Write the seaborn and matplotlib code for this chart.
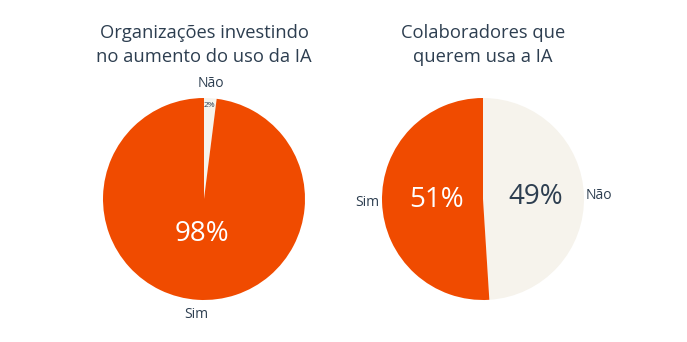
import numpy as np
import matplotlib
matplotlib.use("Agg")
import matplotlib.pyplot as plt
import seaborn as sns

sns.set_theme(style="white")
plt.rcParams["font.family"] = ["Open Sans", "DejaVu Sans"]

# Survey results
titles = ["Organizações investindo\nno aumento do uso da IA",
          "Colaboradores que\nquerem usa a IA"]
categories = ["Não", "Sim"]
org_values = [2, 98]
colab_values = [49, 51]

ORANGE = "#F04B00"
CREAM = "#F6F3EC"
DARK = "#2D3E50"
palette = sns.color_palette([CREAM, ORANGE])

fig = plt.figure(figsize=(6.87, 3.42), dpi=100)
W, H = 687, 342

def pie_axes(cx, cy, r):
    return fig.add_axes([(cx - r) / W, (H - cy - r) / H, 2 * r / W, 2 * r / H])

def draw(ax, values, title, pct_dist, pct_sizes, pct_colors, title_x):
    wedges, texts, autotexts = ax.pie(
        values, labels=categories, colors=palette, startangle=90,
        counterclock=False, autopct="%d%%", labeldistance=1.15,
        pctdistance=0.5, textprops=dict(color=DARK, fontsize=10),
        wedgeprops=dict(linewidth=0))
    for w, lab, t, d, s, c in zip(wedges, texts, autotexts, pct_dist,
                                  pct_sizes, pct_colors):
        ang = np.deg2rad((w.theta1 + w.theta2) / 2)
        t.set_position((d * np.cos(ang), d * np.sin(ang)))
        t.set_fontsize(s)
        t.set_color(c)
        lab.set_position((1.15 * np.cos(ang), 1.15 * np.sin(ang)))
        lab.set_ha("center")
        lab.set_va("center")
    ax.set_xlim(-1, 1)
    ax.set_ylim(-1, 1)
    ax.set_aspect("equal")
    ax.axis("off")
    fig.text(title_x / W, 1 - 45 / H, title, ha="center", va="center",
             fontsize=13.2, color=DARK, linespacing=1.5)

ax1 = pie_axes(204, 199, 101)
draw(ax1, org_values, titles[0], [0.93, 0.35], [6, 20], [DARK, "white"], 204)

ax2 = pie_axes(483, 199, 101)
draw(ax2, colab_values, titles[1], [0.52, 0.46], [20, 20], [DARK, "white"], 483)

fig.savefig("out.png", dpi=100, facecolor="white")
